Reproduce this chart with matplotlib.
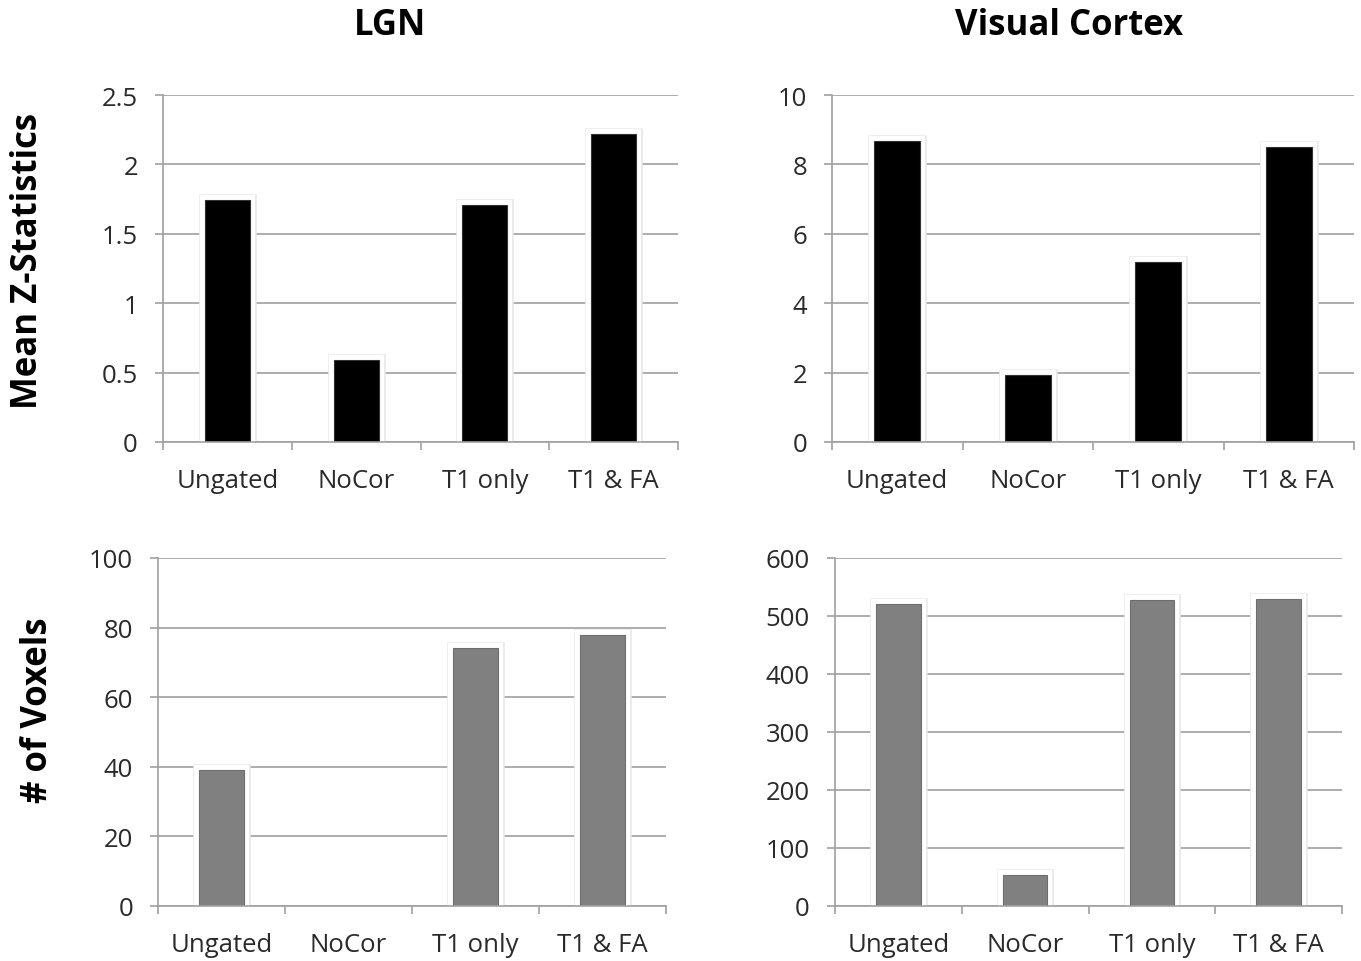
import numpy as np
import matplotlib
matplotlib.use("Agg")
import matplotlib.pyplot as plt
import matplotlib.patheffects as pe

plt.rcParams['font.family'] = ['Open Sans', 'DejaVu Sans']

groups = ['Ungated', 'NoCor', 'T1 only', 'T1 & FA']

# mean z-statistics
lgn_z = [1.74, 0.59, 1.71, 2.22]
vc_z = [8.67, 1.93, 5.19, 8.50]

# number of voxels
lgn_vox = [39, 0, 74, 78]
vc_vox = [521, 53, 527, 529]

fig = plt.figure(figsize=(13.61, 9.62), dpi=100)
W, H = 1361.0, 962.0

def make_axes(x0, y0, x1, y1):
    # pixel box -> figure fraction
    return fig.add_axes([x0 / W, 1 - y1 / H, (x1 - x0) / W, (y1 - y0) / H])

glow = [pe.Stroke(linewidth=9, foreground='#e6e6e6', joinstyle='miter'),
        pe.Stroke(linewidth=7.5, foreground='white', joinstyle='miter'),
        pe.Normal()]

def draw_panel(ax, vals, ymax, step, color, edge):
    x = np.arange(len(groups))
    bars = ax.bar(x, vals, width=0.35, color=color, edgecolor=edge,
                  linewidth=0.8, zorder=3)
    for b, v in zip(bars, vals):
        if v > 0:
            b.set_path_effects(glow)
    ax.set_xlim(-0.5, 3.5)
    ax.set_ylim(0, ymax)
    ax.set_yticks(np.arange(0, ymax + step / 2, step))
    ax.yaxis.set_major_formatter(plt.FuncFormatter(lambda v, p: ('%g' % v)))
    ax.set_xticks(x)
    ax.set_xticklabels(groups)
    ax.set_xticks(np.arange(-0.5, 4, 1), minor=True)
    ax.tick_params(axis='x', which='major', length=0, pad=19,
                   labelsize=18.5, labelcolor='#2a2a2a')
    ax.tick_params(axis='x', which='minor', length=6, width=1.2,
                   color='#a0a0a0', direction='out')
    ax.tick_params(axis='y', length=6, width=1.2, color='#a0a0a0',
                   pad=12, labelsize=18.5, labelcolor='#2a2a2a')
    ax.grid(axis='y', color='#a0a0a0', linewidth=1.2, zorder=0)
    ax.set_axisbelow(True)
    for s in ['top', 'right']:
        ax.spines[s].set_visible(False)
    for s in ['left', 'bottom']:
        ax.spines[s].set_color('#a0a0a0')
        ax.spines[s].set_linewidth(1.2)
        ax.spines[s].set_zorder(4)

ax1 = make_axes(163, 96, 678, 443)
ax2 = make_axes(832, 96, 1354, 443)
ax3 = make_axes(158, 559, 666, 907)
ax4 = make_axes(835, 559, 1342, 907)

draw_panel(ax1, lgn_z, 2.5, 0.5, 'black', '#333333')
draw_panel(ax2, vc_z, 10, 2, 'black', '#333333')
draw_panel(ax3, lgn_vox, 100, 20, '#808080', '#6e6e6e')
draw_panel(ax4, vc_vox, 600, 100, '#808080', '#6e6e6e')

fig.text(390 / W, 1 - 26 / H, 'LGN', ha='center', va='center',
         fontsize=25, fontweight='bold')
fig.text(1069 / W, 1 - 26 / H, 'Visual Cortex', ha='center', va='center',
         fontsize=25, fontweight='bold')
fig.text(28 / W, 1 - 261 / H, 'Mean Z-Statistics', ha='center', va='center',
         rotation=90, fontsize=25, fontweight='bold')
fig.text(38 / W, 1 - 710 / H, '# of Voxels', ha='center', va='center',
         rotation=90, fontsize=25, fontweight='bold')

fig.savefig('out.png', dpi=100, facecolor='white')
